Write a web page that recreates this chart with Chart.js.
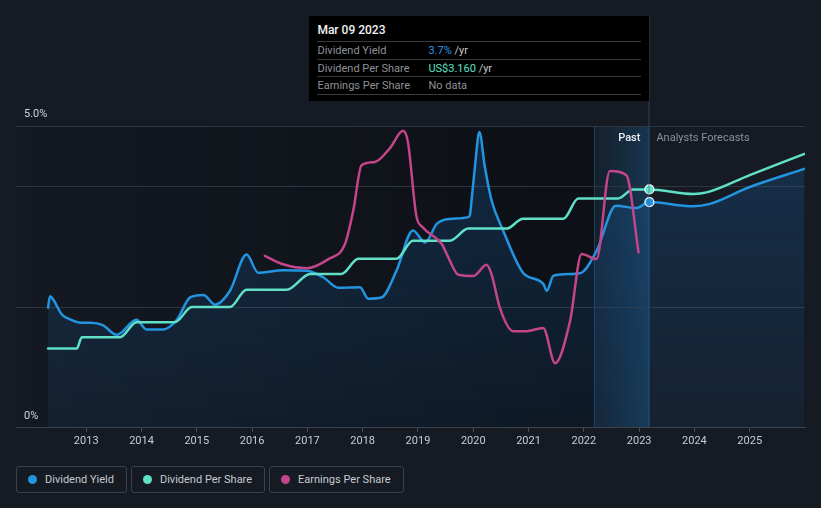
<!DOCTYPE html>
<html>
<head>
<meta charset="utf-8">
<script src="https://cdn.jsdelivr.net/npm/chart.js@4.4.1/dist/chart.umd.min.js"></script>
<style>
  html, body { margin: 0; padding: 0; background: #151a23; }
  #wrap { position: relative; width: 821px; height: 508px; background: #151a23; overflow: hidden; font-family: Roboto, "Noto Sans", sans-serif; }
  #chartBox { position: absolute; left: 0; top: 0; width: 821px; height: 457px; }
  #tip { position: absolute; top: 16px; width: 340px; height: 85px; background: #000; box-sizing: border-box; padding: 0 8px; }
  #tip .title { height: 25px; line-height: 28px; color: #f2f2f2; font-size: 12px; font-weight: 500; border-bottom: 1px solid #3a3a3a; }
  #tip .row { height: 16.5px; line-height: 17px; font-size: 11px; color: #8e9196; border-bottom: 1px solid #3a3a3a; display: flex; }
  #tip .row .lab { width: 111px; }
  #tip .row .unit { color: #c9ccd0; }
  #legend { position: absolute; left: 16px; top: 466px; display: flex; gap: 4px; }
  .lg { height: 25px; border: 1px solid #3b414b; border-radius: 3px; display: flex; align-items: center; padding: 0 12px 0 11px; color: #c6cad0; font-size: 11px; }
  .lg i { display: inline-block; width: 9px; height: 9px; border-radius: 50%; margin-right: 8px; }
</style>
</head>
<body>
<div id="wrap">
  <div id="chartBox"><canvas id="chart"></canvas></div>
  <div id="tip">
    <div class="title">Mar 09 2023</div>
    <div class="row"><span class="lab">Dividend Yield</span><span><span style="color:#2a9ae6">3.7%</span> <span class="unit">/yr</span></span></div>
    <div class="row"><span class="lab">Dividend Per Share</span><span><span style="color:#5fe0c7">US$3.160</span> <span class="unit">/yr</span></span></div>
    <div class="row"><span class="lab">Earnings Per Share</span><span>No data</span></div>
  </div>
  <div id="legend">
    <div class="lg"><i style="background:#2394e0"></i>Dividend Yield</div>
    <div class="lg"><i style="background:#5fe0c7"></i>Dividend Per Share</div>
    <div class="lg"><i style="background:#c4458a"></i>Earnings Per Share</div>
  </div>
</div>
<script>
(function () {
  "use strict";

  // ── Data (dates as decimal years) ──
  var yearTicks = [2013, 2014, 2015, 2016, 2017, 2018, 2019, 2020, 2021, 2022, 2023, 2024, 2025];

  var yieldYears = [2012.31, 2012.345, 2012.40, 2012.556, 2012.65, 2012.92, 2013.08, 2013.30, 2013.55, 2013.91,
    2014.09, 2014.39, 2014.64, 2014.88, 2015.12, 2015.33, 2015.60, 2015.90, 2016.11, 2016.56,
    2016.99, 2017.29, 2017.56, 2017.95, 2018.10, 2018.34, 2018.61, 2018.91, 2019.13, 2019.34,
    2019.58, 2019.91, 2019.94, 2019.97, 2020.03, 2020.11, 2020.21, 2020.33, 2020.54, 2020.90,
    2021.27, 2021.33, 2021.45, 2021.93, 2022.23, 2022.58, 2022.95, 2023.186, 2023.98, 2024.28,
    2025.0, 2025.99];
  var yieldValues = [1.99, 2.18, 2.13, 1.88, 1.82, 1.74, 1.74, 1.70, 1.54, 1.79,
    1.63, 1.63, 1.79, 2.16, 2.20, 2.04, 2.27, 2.87, 2.57, 2.61,
    2.60, 2.49, 2.32, 2.33, 2.14, 2.16, 2.60, 3.27, 3.07, 3.38,
    3.46, 3.49, 3.53, 3.77, 4.32, 4.90, 4.32, 3.77, 3.27, 2.57,
    2.38, 2.27, 2.52, 2.56, 2.93, 3.68, 3.64, 3.74, 3.67, 3.71,
    3.99, 4.29];

  var dpsYears = [2012.31, 2012.83, 2012.92, 2013.61, 2013.91, 2014.605, 2014.91, 2015.60, 2015.90, 2016.625,
    2017.05, 2017.62, 2017.92, 2018.61, 2018.91, 2019.58, 2019.91, 2020.60, 2020.90, 2021.63,
    2021.90, 2022.62, 2022.89, 2023.186, 2023.98, 2024.22, 2025.0, 2025.99];
  var dpsValues = [1.05, 1.05, 1.20, 1.20, 1.40, 1.40, 1.60, 1.60, 1.83, 1.83,
    2.04, 2.04, 2.24, 2.24, 2.48, 2.48, 2.64, 2.64, 2.77, 2.77,
    3.04, 3.04, 3.16, 3.16, 3.10, 3.12, 3.35, 3.63];

  var epsYears = [2016.23, 2016.56, 2016.99, 2017.38, 2017.68, 2017.83, 2017.98, 2018.22, 2018.49, 2018.73,
    2018.82, 2018.97, 2019.09, 2019.43, 2019.55, 2019.73, 2020.0, 2020.24, 2020.33, 2020.48,
    2020.72, 2020.965, 2021.265, 2021.48, 2021.75, 2021.96, 2022.23, 2022.47, 2022.77, 2022.99];
  var epsValues = [5.70, 5.42, 5.29, 5.59, 6.09, 7.20, 8.70, 8.81, 9.26, 9.84,
    9.45, 7.03, 6.64, 6.09, 5.64, 5.07, 5.03, 5.40, 5.09, 3.98,
    3.20, 3.20, 3.31, 2.14, 3.53, 5.76, 5.59, 8.51, 8.37, 5.81];

  var yieldGridTicks = [0, 2, 4, 5];
  var pastStart = 2022.18;
  var cursorDate = 2023.186;

  var BLUE = "#2394e0", TEAL = "#5fe0c7", PINK = "#c4458a";

  function pts(xs, ys) {
    return xs.map(function (x, i) { return { x: x, y: ys[i] }; });
  }

  function cursorRadius(ctx) {
    return ctx.raw && ctx.raw.x === cursorDate ? 4.5 : 0;
  }

  // ── Backdrop: darkening towards the past band, the band itself, cursor line ──
  var backdrop = {
    id: "backdrop",
    beforeDraw: function (chart) {
      var c = chart.ctx, a = chart.chartArea, xs = chart.scales.x;
      var bx = xs.getPixelForValue(pastStart), cx = xs.getPixelForValue(cursorDate);
      c.save();
      var g = c.createLinearGradient(a.left, 0, bx, 0);
      g.addColorStop(0, "rgba(0,0,0,0.02)");
      g.addColorStop(1, "rgba(0,0,0,0.38)");
      c.fillStyle = g;
      c.fillRect(a.left, a.top, bx - a.left, a.bottom - a.top);
      var g2 = c.createLinearGradient(bx, 0, cx, 0);
      g2.addColorStop(0, "rgba(25,90,140,0.10)");
      g2.addColorStop(1, "rgba(30,110,170,0.34)");
      c.fillStyle = g2;
      c.fillRect(bx, a.top, cx - bx, a.bottom - a.top);
      c.fillStyle = "rgba(45,100,145,0.45)";
      c.fillRect(Math.round(bx), a.top, 1, a.bottom - a.top);
      c.restore();
    },
    afterDatasetsDraw: function (chart) {
      var c = chart.ctx, a = chart.chartArea, xs = chart.scales.x;
      var cx = xs.getPixelForValue(cursorDate);
      c.save();
      c.fillStyle = "rgba(60,100,135,0.55)";
      c.fillRect(Math.round(cx) - 0.5, 16, 1, a.bottom - 16);
      c.font = "500 11px Roboto";
      c.textBaseline = "middle";
      c.textAlign = "right";
      c.fillStyle = "#eef0f2";
      c.fillText("Past", cx - 9, a.top + 12);
      c.textAlign = "left";
      c.fillStyle = "#8b9099";
      c.font = "11px Roboto";
      c.fillText("Analysts Forecasts", cx + 7, a.top + 12);
      c.restore();
    }
  };

  Chart.defaults.font.family = "Roboto";

  var chart = new Chart(document.getElementById("chart"), {
    type: "line",
    data: {
      datasets: [
        {
          label: "Earnings Per Share", data: pts(epsYears, epsValues), yAxisID: "yEps",
          borderColor: PINK, borderWidth: 2.5, pointRadius: 0, fill: false,
          cubicInterpolationMode: "monotone", order: 0
        },
        {
          label: "Dividend Per Share", data: pts(dpsYears, dpsValues), yAxisID: "yDps",
          borderColor: TEAL, borderWidth: 2.5, fill: false,
          pointRadius: cursorRadius, pointBackgroundColor: TEAL, pointBorderColor: "#ffffff", pointBorderWidth: 1.2,
          cubicInterpolationMode: "monotone", order: 1
        },
        {
          label: "Dividend Yield", data: pts(yieldYears, yieldValues), yAxisID: "y",
          borderColor: BLUE, borderWidth: 2.5, fill: "origin",
          backgroundColor: function (ctx) {
            var a = ctx.chart.chartArea;
            if (!a) return "rgba(25,110,190,0.15)";
            var g = ctx.chart.ctx.createLinearGradient(0, a.top, 0, a.bottom);
            g.addColorStop(0, "rgba(25,110,190,0.26)");
            g.addColorStop(1, "rgba(25,110,190,0.09)");
            return g;
          },
          pointRadius: cursorRadius, pointBackgroundColor: BLUE, pointBorderColor: "#ffffff", pointBorderWidth: 1.2,
          cubicInterpolationMode: "monotone", order: 2
        }
      ]
    },
    options: {
      responsive: true, maintainAspectRatio: false, animation: false,
      layout: { padding: { left: 0, right: 16, top: 126, bottom: 6 } },
      plugins: { legend: { display: false }, tooltip: { enabled: false } },
      elements: { line: { borderCapStyle: "round", borderJoinStyle: "round" } },
      scales: {
        x: {
          type: "linear", min: 2011.73, max: 2026.0,
          afterBuildTicks: function (s) { s.ticks = yearTicks.map(function (v) { return { value: v }; }); },
          ticks: { color: "#c9ccd1", font: { size: 11 }, padding: 3, maxRotation: 0, callback: function (v) { return String(v); } },
          grid: { drawOnChartArea: false, drawTicks: true, tickLength: 4, color: "#4a4f57" },
          border: { display: true, color: "#3b4048" }
        },
        y: {
          position: "left", min: 0, max: 5,
          afterBuildTicks: function (s) { s.ticks = yieldGridTicks.map(function (v) { return { value: v }; }); },
          ticks: {
            mirror: true, padding: 8, labelOffset: -12, color: "#d2d5da", font: { size: 11 },
            callback: function (v) { return v === 5 ? "5.0%" : v === 0 ? "0%" : ""; }
          },
          grid: { color: "#2f353e", drawTicks: false },
          border: { display: false }
        },
        yDps: { display: false, min: 0, max: 4 },
        yEps: { display: false, min: 0, max: 10 }
      }
    },
    plugins: [backdrop]
  });

  // ── Tooltip box: right edge sits on the cursor date ──
  var tip = document.getElementById("tip");
  tip.style.left = (chart.scales.x.getPixelForValue(cursorDate) - 340) + "px";
})();
</script>
</body>
</html>
